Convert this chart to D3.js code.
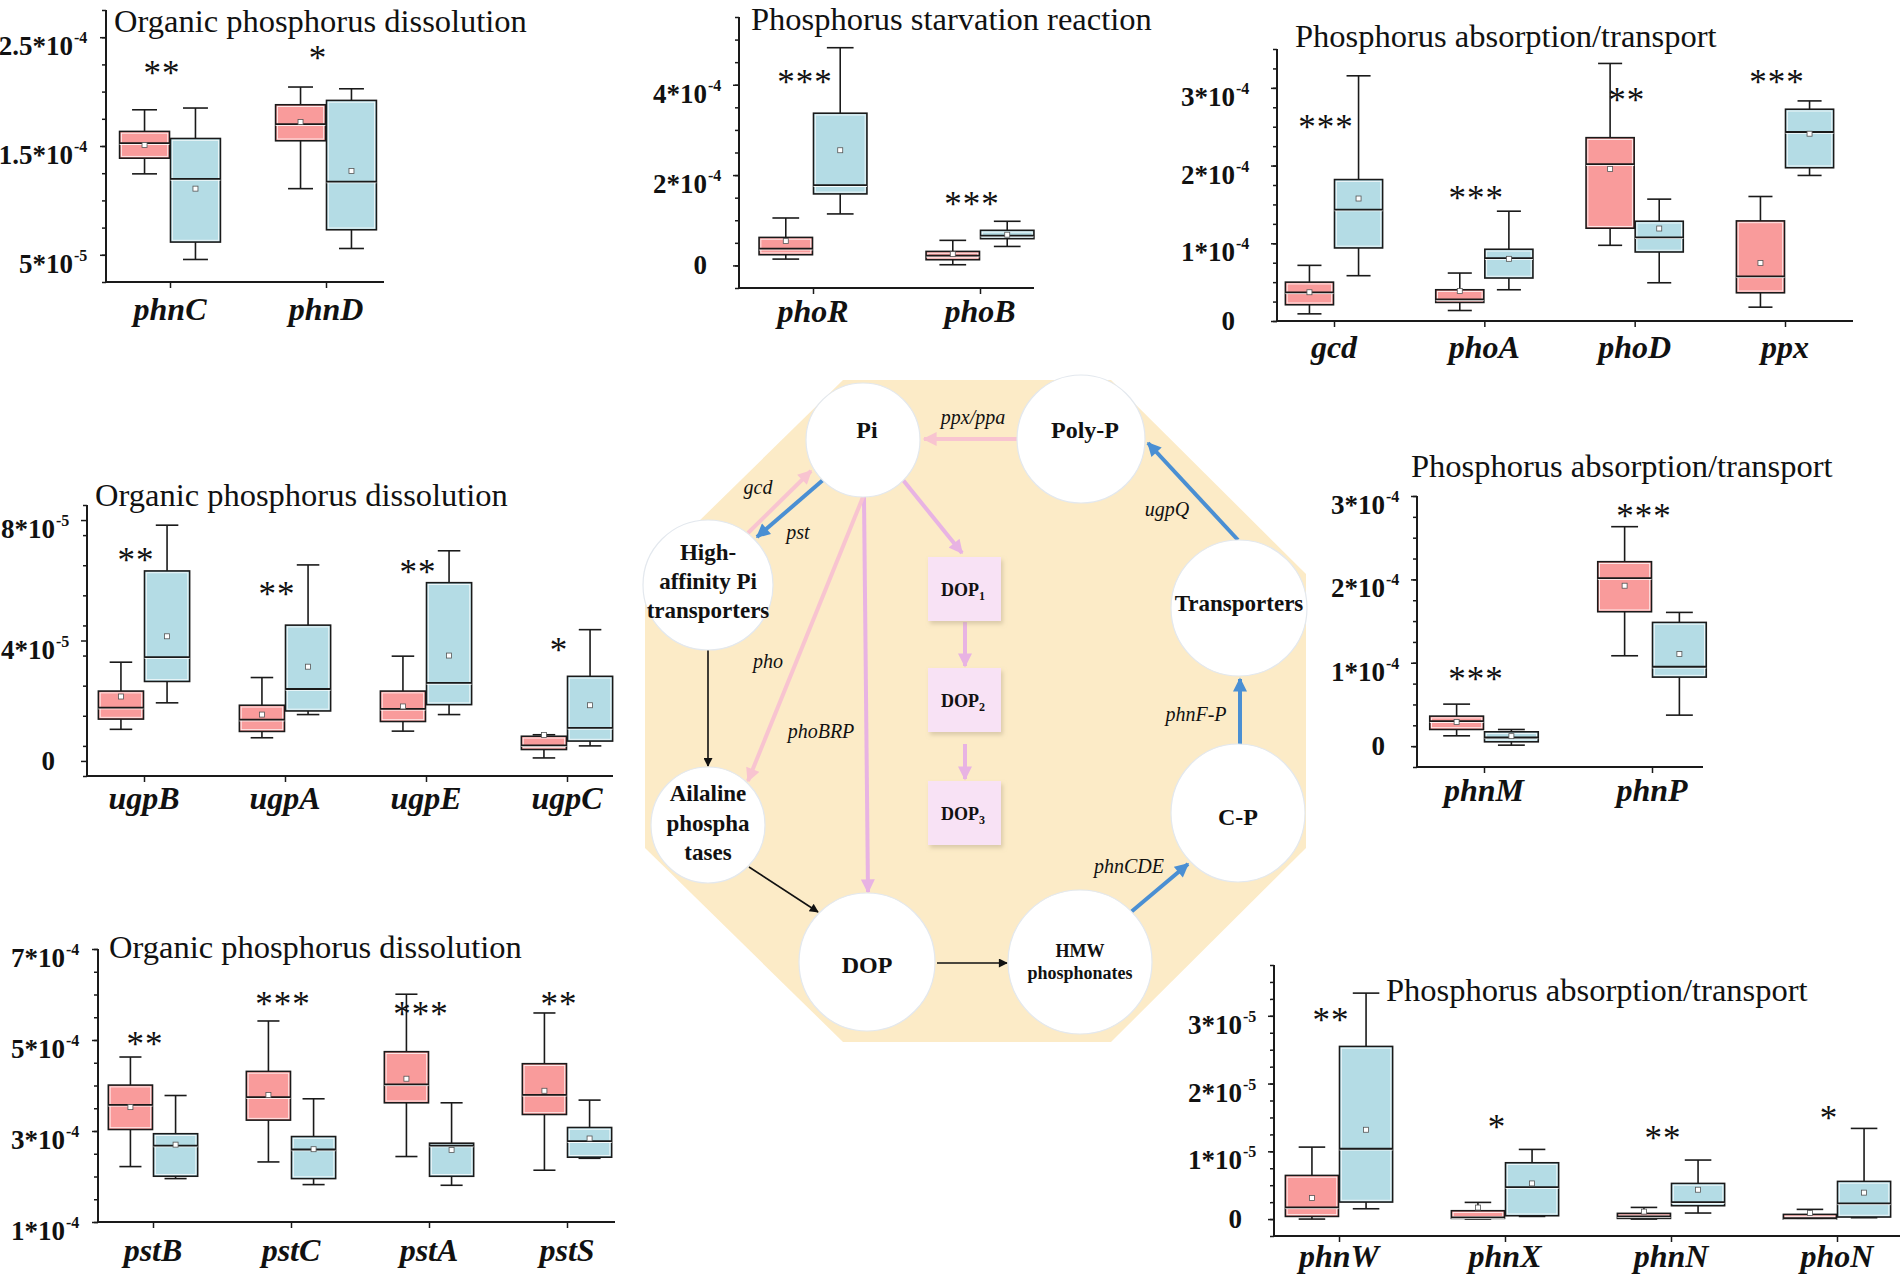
<!DOCTYPE html>
<html><head><meta charset="utf-8">
<script src="https://cdn.jsdelivr.net/npm/d3@7"></script>
<style>body{margin:0;background:#fff}svg{display:block}</style>
</head><body>
<svg id="c" width="1902" height="1283"></svg>
<script>
// ================= DATA =================
// each stat = [whiskerLow, Q1, median, Q3, whiskerHigh, mean]
const p1Genes = ["phnC", "phnD"];
const p1Ctrl = [[1.244e-4, 1.388e-4, 1.526e-4, 1.634e-4, 1.833e-4, 1.51e-4], [1.108e-4, 1.548e-4, 1.701e-4, 1.879e-4, 2.042e-4, 1.72e-4]];
const p1Trt  = [[0.457e-4, 0.617e-4, 1.197e-4, 1.569e-4, 1.849e-4, 1.108e-4], [0.558e-4, 0.730e-4, 1.173e-4, 1.919e-4, 2.026e-4, 1.271e-4]];
const p1Sig = ["**", "*"];
const p1SigY = [2.217e-4, 2.355e-4];
const p1Ticks = [0.5e-4, 1.5e-4, 2.5e-4];
const p1TickLabels = ["5*10^-5", "1.5*10^-4", "2.5*10^-4"];

const p2Genes = ["phoR", "phoB"];
const p2Ctrl = [[0.14e-4, 0.237e-4, 0.37e-4, 0.62e-4, 1.05e-4, 0.54e-4], [0.015e-4, 0.126e-4, 0.215e-4, 0.31e-4, 0.555e-4, 0.25e-4]];
const p2Trt  = [[1.14e-4, 1.583e-4, 1.776e-4, 3.37e-4, 4.82e-4, 2.55e-4], [0.42e-4, 0.592e-4, 0.659e-4, 0.777e-4, 0.977e-4, 0.68e-4]];
const p2Sig = ["***", "***"];
const p2SigY = [4.17e-4, 1.47e-4];
const p2Ticks = [0, 2e-4, 4e-4];
const p2TickLabels = ["0", "2*10^-4", "4*10^-4"];

const p3Genes = ["gcd", "phoA", "phoD", "ppx"];
const p3Ctrl = [[0.092e-4, 0.209e-4, 0.368e-4, 0.50e-4, 0.716e-4, 0.37e-4], [0.135e-4, 0.239e-4, 0.277e-4, 0.402e-4, 0.617e-4, 0.385e-4],
                [0.974e-4, 1.194e-4, 2.019e-4, 2.359e-4, 3.314e-4, 1.955e-4], [0.178e-4, 0.363e-4, 0.574e-4, 1.288e-4, 1.602e-4, 0.746e-4]];
const p3Trt  = [[0.583e-4, 0.94e-4, 1.434e-4, 1.82e-4, 3.155e-4, 1.576e-4], [0.402e-4, 0.553e-4, 0.81e-4, 0.923e-4, 1.413e-4, 0.80e-4],
                [0.492e-4, 0.888e-4, 1.077e-4, 1.284e-4, 1.568e-4, 1.19e-4], [1.873e-4, 1.972e-4, 2.432e-4, 2.725e-4, 2.832e-4, 2.41e-4]];
const p3Sig = ["***", "***", "**", "***"];
const p3SigY = [2.561e-4, 1.647e-4, 2.908e-4, 3.14e-4];
const p3Ticks = [0, 1e-4, 2e-4, 3e-4];
const p3TickLabels = ["0", "1*10^-4", "2*10^-4", "3*10^-4"];

const p4Genes = ["ugpB", "ugpA", "ugpE", "ugpC"];
const p4Ctrl = [[1.05e-5, 1.39e-5, 1.77e-5, 2.32e-5, 3.28e-5, 2.14e-5], [0.77e-5, 0.98e-5, 1.37e-5, 1.85e-5, 2.77e-5, 1.54e-5],
                [0.99e-5, 1.31e-5, 1.73e-5, 2.32e-5, 3.48e-5, 1.81e-5], [0.10e-5, 0.38e-5, 0.52e-5, 0.82e-5, 0.87e-5, 0.86e-5]];
const p4Trt  = [[1.93e-5, 2.64e-5, 3.45e-5, 6.31e-5, 7.83e-5, 4.14e-5], [1.54e-5, 1.66e-5, 2.39e-5, 4.51e-5, 6.51e-5, 3.13e-5],
                [1.54e-5, 1.87e-5, 2.59e-5, 5.92e-5, 6.98e-5, 3.50e-5], [0.50e-5, 0.66e-5, 1.10e-5, 2.81e-5, 4.36e-5, 1.85e-5]];
const p4Sig = ["**", "**", "**", "*"];
const p4SigY = [6.84e-5, 5.71e-5, 6.44e-5, 3.85e-5];
const p4Ticks = [0, 4e-5, 8e-5];
const p4TickLabels = ["0", "4*10^-5", "8*10^-5"];

const p5Genes = ["pstB", "pstC", "pstA", "pstS"];
const p5Ctrl = [[2.218e-4, 3.033e-4, 3.576e-4, 4.009e-4, 4.626e-4, 3.525e-4], [2.32e-4, 3.239e-4, 3.745e-4, 4.31e-4, 5.418e-4, 3.79e-4],
                [2.439e-4, 3.62e-4, 4.024e-4, 4.743e-4, 6.006e-4, 4.149e-4], [2.138e-4, 3.363e-4, 3.796e-4, 4.479e-4, 5.594e-4, 3.884e-4]];
const p5Trt  = [[1.954e-4, 2.006e-4, 2.68e-4, 2.94e-4, 3.78e-4, 2.70e-4], [1.822e-4, 1.954e-4, 2.593e-4, 2.878e-4, 3.708e-4, 2.60e-4],
                [1.807e-4, 2.005e-4, 2.68e-4, 2.732e-4, 3.62e-4, 2.585e-4], [2.40e-4, 2.424e-4, 2.776e-4, 3.077e-4, 3.679e-4, 2.835e-4]];
const p5Sig = ["**", "***", "***", "**"];
const p5SigY = [5.02e-4, 5.90e-4, 5.68e-4, 5.90e-4];
const p5Ticks = [1e-4, 3e-4, 5e-4, 7e-4];
const p5TickLabels = ["1*10^-4", "3*10^-4", "5*10^-4", "7*10^-4"];

const p6Genes = ["phnM", "phnP"];
const p6Ctrl = [[0.124e-4, 0.20e-4, 0.30e-4, 0.36e-4, 0.504e-4, 0.29e-4], [1.084e-4, 1.612e-4, 2.016e-4, 2.212e-4, 2.632e-4, 1.924e-4]];
const p6Trt  = [[0.012e-4, 0.052e-4, 0.104e-4, 0.172e-4, 0.20e-4, 0.12e-4], [0.372e-4, 0.828e-4, 0.952e-4, 1.484e-4, 1.604e-4, 1.104e-4]];
const p6Sig = ["***", "***"];
const p6SigY = [0.865e-4, 2.82e-4];
const p6Ticks = [0, 1e-4, 2e-4, 3e-4];
const p6TickLabels = ["0", "1*10^-4", "2*10^-4", "3*10^-4"];

const p7Genes = ["phnW", "phnX", "phnN", "phoN"];
const p7Ctrl = [[0, 0.039e-5, 0.172e-5, 0.644e-5, 1.062e-5, 0.31e-5], [0, 0.01e-5, 0.025e-5, 0.123e-5, 0.246e-5, 0.17e-5],
                [0, 0.01e-5, 0.04e-5, 0.084e-5, 0.172e-5, 0.11e-5], [0, 0, 0.015e-5, 0.069e-5, 0.143e-5, 0.09e-5]];
const p7Trt  = [[0.152e-5, 0.251e-5, 1.038e-5, 2.548e-5, 3.335e-5, 1.318e-5], [0.039e-5, 0.049e-5, 0.472e-5, 0.831e-5, 1.028e-5, 0.526e-5],
                [0.089e-5, 0.197e-5, 0.251e-5, 0.526e-5, 0.871e-5, 0.433e-5], [0.02e-5, 0.03e-5, 0.231e-5, 0.556e-5, 1.338e-5, 0.39e-5]];
const p7Sig = ["**", "*", "**", "*"];
const p7SigY = [3.01e-5, 1.43e-5, 1.27e-5, 1.57e-5];
const p7Ticks = [0, 1e-5, 2e-5, 3e-5];
const p7TickLabels = ["0", "1*10^-5", "2*10^-5", "3*10^-5"];

const titles = ["Organic phosphorus dissolution", "Phosphorus starvation reaction", "Phosphorus absorption/transport",
                "Organic phosphorus dissolution", "Organic phosphorus dissolution", "Phosphorus absorption/transport",
                "Phosphorus absorption/transport"];

// ================= LAYOUT =================
const RED = "#f99b9b", BLUE = "#b4dce5", INK = "#1a1a1a";
const SERIF = "'Liberation Serif','Times New Roman',Times,serif";
const svg = d3.select("#c");

const panels = [
  {genes:p1Genes, ctrl:p1Ctrl, trt:p1Trt, sig:p1Sig, sigY:p1SigY, ticks:p1Ticks, labels:p1TickLabels, title:titles[0],
   dom:[0.25e-4, 2.75e-4], minor:0.25e-4, ax:106, axEnd:384, yBot:282, yTop:10, cat:[170,326], tx:114, ty:32, gap:33, ldy:38},
  {genes:p2Genes, ctrl:p2Ctrl, trt:p2Trt, sig:p2Sig, sigY:p2SigY, ticks:p2Ticks, labels:p2TickLabels, title:titles[1],
   dom:[-0.5e-4, 5.5e-4], minor:0.5e-4, ax:739, axEnd:1034, yBot:288, yTop:17, cat:[813,980], tx:751, ty:30, gap:32, ldy:34},
  {genes:p3Genes, ctrl:p3Ctrl, trt:p3Trt, sig:p3Sig, sigY:p3SigY, ticks:p3Ticks, labels:p3TickLabels, title:titles[2],
   dom:[0, 3.5e-4], minor:0.25e-4, ax:1277, axEnd:1853, yBot:321, yTop:49, cat:[1334,1785], tx:1295, ty:47, gap:42, ldy:37},
  {genes:p4Genes, ctrl:p4Ctrl, trt:p4Trt, sig:p4Sig, sigY:p4SigY, ticks:p4Ticks, labels:p4TickLabels, title:titles[3],
   dom:[-0.5e-5, 8.5e-5], minor:1e-5, ax:87, axEnd:613, yBot:776, yTop:505, cat:[144,567], tx:95, ty:506, gap:32, ldy:33},
  {genes:p5Genes, ctrl:p5Ctrl, trt:p5Trt, sig:p5Sig, sigY:p5SigY, ticks:p5Ticks, labels:p5TickLabels, title:titles[4],
   dom:[1e-4, 7e-4], minor:0.5e-4, ax:98, axEnd:615, yBot:1222, yTop:949, cat:[153,567], tx:109, ty:958, gap:33, ldy:39},
  {genes:p6Genes, ctrl:p6Ctrl, trt:p6Trt, sig:p6Sig, sigY:p6SigY, ticks:p6Ticks, labels:p6TickLabels, title:titles[5],
   dom:[-0.25e-4, 3e-4], minor:0.25e-4, ax:1417, axEnd:1703, yBot:767, yTop:496, cat:[1484,1652], tx:1411, ty:477, gap:32, ldy:34},
  {genes:p7Genes, ctrl:p7Ctrl, trt:p7Trt, sig:p7Sig, sigY:p7SigY, ticks:p7Ticks, labels:p7TickLabels, title:titles[6],
   dom:[-0.25e-5, 3.75e-5], minor:0.25e-5, ax:1274, axEnd:1900, yBot:1236, yTop:965, cat:[1339,1837], tx:1386, ty:1001, gap:32, ldy:31}
];

// ================= CENTER DIAGRAM (drawn first, under panels) =================
const dg = svg.append("g");
const defs = svg.append("defs");
const arrowCols = {pink:"#f8c4d0", lilac:"#e8b3e3", blue:"#4a8fd3", black:"#111"};
Object.entries(arrowCols).forEach(([k,c])=>{
  const big = k !== "black";
  defs.append("marker").attr("id","ah-"+k).attr("markerUnits","userSpaceOnUse")
    .attr("viewBox","0 0 10 10").attr("refX",9).attr("refY",5)
    .attr("markerWidth", big?15:11).attr("markerHeight", big?14:9).attr("orient","auto")
    .append("path").attr("d","M0,0L10,5L0,10Z").attr("fill",c);
});
const f = defs.append("filter").attr("id","shd").attr("x","-20%").attr("y","-20%").attr("width","150%").attr("height","150%");
f.append("feDropShadow").attr("dx",2).attr("dy",3).attr("stdDeviation",2).attr("flood-color","#b9a98a").attr("flood-opacity",0.5);

const oct = [[843,380],[1111,380],[1306,574],[1306,848],[1111,1042],[843,1042],[645,848],[645,574]];
dg.append("polygon").attr("points", oct.map(p=>p.join(",")).join(" ")).attr("fill","#fcebc7");

const arrows = [
  {p:[1017,439,924,439], c:"pink", w:4},
  {p:[823,480,757,537], c:"blue", w:4},
  {p:[748,533,811,471], c:"pink", w:4},
  {p:[903,480,962,553], c:"lilac", w:4},
  {p:[965,622,965,666], c:"lilac", w:4},
  {p:[965,744,965,779], c:"lilac", w:4},
  {p:[864,497,868,892], c:"lilac", w:4},
  {p:[863,497,748,781], c:"pink", w:4},
  {p:[708,650,708,766], c:"black", w:1.6},
  {p:[749,867,818,912], c:"black", w:1.6},
  {p:[937,963,1007,963], c:"black", w:1.6},
  {p:[1131,912,1188,864], c:"blue", w:4},
  {p:[1240,745,1240,679], c:"blue", w:4},
  {p:[1238,540,1148,443], c:"blue", w:4}
];
arrows.forEach(a=>{
  dg.append("line").attr("x1",a.p[0]).attr("y1",a.p[1]).attr("x2",a.p[2]).attr("y2",a.p[3])
    .attr("stroke",arrowCols[a.c]).attr("stroke-width",a.w).attr("marker-end","url(#ah-"+a.c+")");
});

const nodes = [
  {cx:863, cy:440, rx:57, ry:57, lines:["Pi"], fs:24, y0:438, lh:0},
  {cx:1081, cy:439, rx:64, ry:64, lines:["Poly-P"], fs:24, y0:438, lh:0},
  {cx:708, cy:585, rx:65, ry:65, lines:["High-","affinity Pi","transporters"], fs:23, y0:560, lh:29},
  {cx:1239, cy:608, rx:68, ry:68, lines:["Transporters"], fs:23, y0:611, lh:0},
  {cx:708, cy:825, rx:57, ry:58, lines:["Ailaline","phospha","tases"], fs:23, y0:801, lh:29.5},
  {cx:1238, cy:813, rx:67, ry:69, lines:["C-P"], fs:24, y0:825, lh:0},
  {cx:867, cy:962, rx:68, ry:69, lines:["DOP"], fs:24, y0:973, lh:0},
  {cx:1080, cy:962, rx:72, ry:72, lines:["HMW","phosphonates"], fs:18, y0:957, lh:22}
];
nodes.forEach(n=>{
  dg.append("ellipse").attr("cx",n.cx).attr("cy",n.cy).attr("rx",n.rx).attr("ry",n.ry)
    .attr("fill","#fff").attr("stroke","#e3e8ee").attr("stroke-width",1.2);
  n.lines.forEach((t,i)=>{
    dg.append("text").attr("x",n.cx + (t==="Pi"||t==="Poly-P"?4:0)).attr("y",n.y0 + i*n.lh).attr("text-anchor","middle")
      .attr("font-family",SERIF).attr("font-weight","bold").attr("font-size",n.fs).attr("fill","#111").text(t);
  });
});
const dops = [{y:557,s:"1"},{y:668,s:"2"},{y:781,s:"3"}];
dops.forEach(d=>{
  dg.append("rect").attr("x",928).attr("y",d.y).attr("width",73).attr("height",64)
    .attr("fill","#f8e2f5").attr("filter","url(#shd)");
  const t = dg.append("text").attr("x",963).attr("y",d.y+39).attr("text-anchor","middle")
    .attr("font-family",SERIF).attr("font-weight","bold").attr("font-size",18).attr("fill","#111");
  t.append("tspan").text("DOP");
  t.append("tspan").attr("font-size",12).attr("dy",4).text(d.s);
});
const elabels = [
  {t:"ppx/ppa", x:973, y:424}, {t:"pst", x:798, y:539}, {t:"gcd", x:758, y:494}, {t:"pho", x:768, y:668},
  {t:"phoBRP", x:821, y:738}, {t:"ugpQ", x:1167, y:516}, {t:"phnF-P", x:1196, y:721}, {t:"phnCDE", x:1129, y:873}
];
elabels.forEach(l=>{
  dg.append("text").attr("x",l.x).attr("y",l.y).attr("text-anchor","middle").attr("font-family",SERIF)
    .attr("font-style","italic").attr("font-size",20).attr("fill","#111").text(l.t);
});

// ================= BOX PLOT PANELS =================
panels.forEach(P=>{
  const g = svg.append("g");
  const y = d3.scaleLinear().domain(P.dom).range([P.yBot, P.yTop]);
  const x = d3.scalePoint().domain(P.genes).range(P.cat);
  const step = (P.cat[1]-P.cat[0])/(P.genes.length-1);
  const bw = 0.32*step;

  // axes lines
  g.append("line").attr("x1",P.ax).attr("x2",P.ax).attr("y1",P.yTop).attr("y2",P.yBot+1).attr("stroke",INK).attr("stroke-width",2);
  g.append("line").attr("x1",P.ax-1).attr("x2",P.axEnd).attr("y1",P.yBot).attr("y2",P.yBot).attr("stroke",INK).attr("stroke-width",2);

  // minor + major ticks through d3 axes
  const minors = d3.range(P.dom[0], P.dom[1] + P.minor*0.01, P.minor);
  const gMin = g.append("g").attr("transform",`translate(${P.ax},0)`)
    .call(d3.axisLeft(y).tickValues(minors).tickSize(4).tickSizeOuter(0).tickFormat(""));
  const gMaj = g.append("g").attr("transform",`translate(${P.ax},0)`)
    .call(d3.axisLeft(y).tickValues(P.ticks).tickSize(6).tickSizeOuter(0).tickFormat(""));
  const gX = g.append("g").attr("transform",`translate(0,${P.yBot})`)
    .call(d3.axisBottom(x).tickSize(6).tickSizeOuter(0).tickFormat(""));
  [gMin,gMaj,gX].forEach(a=>{ a.select(".domain").remove(); a.selectAll("line").attr("stroke",INK).attr("stroke-width",1.5); });

  // y tick labels with superscripts
  P.ticks.forEach((t,i)=>{
    const [main, sup] = P.labels[i].split("^");
    const ty = y(t);
    const tx = P.ax - P.gap;
    if (sup) {
      g.append("text").attr("x",tx).attr("y",ty+18).attr("text-anchor","end").attr("font-family",SERIF)
        .attr("font-weight","bold").attr("font-size",27).attr("fill","#111").text(main);
      g.append("text").attr("x",tx+1).attr("y",ty+6).attr("font-family",SERIF)
        .attr("font-weight","bold").attr("font-size",16).attr("fill","#111").text(sup);
    } else {
      g.append("text").attr("x",tx).attr("y",ty+9).attr("text-anchor","end").attr("font-family",SERIF)
        .attr("font-weight","bold").attr("font-size",27).attr("fill","#111").text(main);
    }
  });

  // category labels
  P.genes.forEach(gn=>{
    g.append("text").attr("x",x(gn)).attr("y",P.yBot+P.ldy).attr("text-anchor","middle").attr("font-family",SERIF)
      .attr("font-weight","bold").attr("font-style","italic").attr("font-size",32).attr("fill","#111").text(gn);
  });

  // title
  g.append("text").attr("x",P.tx).attr("y",P.ty).attr("font-family",SERIF).attr("font-size",32.5).attr("fill","#111").text(P.title);

  // boxes
  function box(s, x0, fill){
    const xc = x0 + bw/2;
    const cap = bw*0.5;
    g.append("line").attr("x1",xc).attr("x2",xc).attr("y1",y(s[0])).attr("y2",y(s[1])).attr("stroke",INK).attr("stroke-width",1.6);
    g.append("line").attr("x1",xc).attr("x2",xc).attr("y1",y(s[3])).attr("y2",y(s[4])).attr("stroke",INK).attr("stroke-width",1.6);
    g.append("line").attr("x1",xc-cap/2).attr("x2",xc+cap/2).attr("y1",y(s[0])).attr("y2",y(s[0])).attr("stroke",INK).attr("stroke-width",1.6);
    g.append("line").attr("x1",xc-cap/2).attr("x2",xc+cap/2).attr("y1",y(s[4])).attr("y2",y(s[4])).attr("stroke",INK).attr("stroke-width",1.6);
    const top = y(s[3]), h = Math.max(1.5, y(s[1]) - y(s[3]));
    g.append("rect").attr("x",x0).attr("y",top).attr("width",bw).attr("height",h)
      .attr("fill",fill).attr("stroke",INK).attr("stroke-width",1.6);
    if (h > 4) g.append("rect").attr("x",x0+1.8).attr("y",top+1.8).attr("width",bw-3.6).attr("height",h-3.6)
      .attr("fill","none").attr("stroke","#fff").attr("stroke-width",0.9).attr("opacity",0.85);
    g.append("line").attr("x1",x0).attr("x2",x0+bw).attr("y1",y(s[2])+1.2).attr("y2",y(s[2])+1.2).attr("stroke","#fff").attr("stroke-width",1);
    g.append("line").attr("x1",x0).attr("x2",x0+bw).attr("y1",y(s[2])).attr("y2",y(s[2])).attr("stroke",INK).attr("stroke-width",1.8);
    g.append("rect").attr("x",xc-2.5).attr("y",y(s[5])-2.5).attr("width",5).attr("height",5)
      .attr("fill","#fff").attr("stroke","#555").attr("stroke-width",0.8);
  }
  P.genes.forEach((gn,i)=>{
    const xc = x(gn);
    box(P.ctrl[i], xc - bw - 0.5, RED);
    box(P.trt[i], xc + 0.5, BLUE);
    g.append("text").attr("x",xc-8).attr("y",y(P.sigY[i])+17).attr("text-anchor","middle").attr("font-family",SERIF)
      .attr("font-size",35).attr("letter-spacing",1).attr("fill","#111").text(P.sig[i]);
  });
});
</script>
</body></html>
